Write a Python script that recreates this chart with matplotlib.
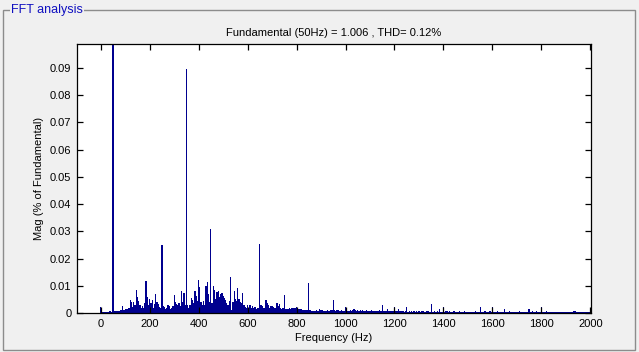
import matplotlib
matplotlib.use("Agg")
import matplotlib.pyplot as plt
from matplotlib.patches import Rectangle
import numpy as np

plt.rcParams['font.family'] = ['Liberation Sans', 'DejaVu Sans']

# Frequency bins (Hz), 5 Hz resolution, 0..2000
freqs = list(range(0, 2001, 5))

# Magnitudes, one row per 100 Hz (20 bins each)
mag_rows = [
    [.0022, .0004, .0004, .0004, .0005, .0005, .0004, .0006, .0007, .0005, 1.0, .0006, .0008, .0007, .0009, .0008, .0010, .0012, .0025, .0011],
    [.0013, .0015, .0014, .0018, .0047, .0040, .0022, .0040, .0030, .0083, .0060, .0045, .0030, .0020, .0025, .0018, .0035, .0118, .0060, .0030],
    [.0050, .0035, .0047, .0020, .0034, .0069, .0040, .0034, .0022, .0018, .0250, .0025, .0022, .0015, .0020, .0028, .0026, .0016, .0018, .0025],
    [.0067, .0040, .0034, .0030, .0038, .0025, .0080, .0040, .0073, .0030, .0895, .0028, .0020, .0030, .0055, .0049, .0035, .0080, .0061, .0045],
    [.0120, .0096, .0040, .0028, .0044, .0030, .0100, .0113, .0070, .0040, .0309, .0035, .0098, .0083, .0050, .0077, .0080, .0060, .0071, .0075],
    [.0061, .0056, .0047, .0035, .0030, .0045, .0132, .0010, .0040, .0081, .0053, .0045, .0090, .0053, .0040, .0035, .0074, .0030, .0022, .0020],
    [.0028, .0020, .0028, .0018, .0025, .0020, .0022, .0015, .0020, .0018, .0254, .0028, .0027, .0018, .0020, .0047, .0037, .0028, .0020, .0025],
    [.0025, .0022, .0020, .0018, .0036, .0025, .0033, .0020, .0015, .0018, .0066, .0016, .0016, .0014, .0018, .0016, .0020, .0020, .0018, .0020],
    [.0022, .0018, .0014, .0016, .0013, .0012, .0012, .0010, .0012, .0010, .0110, .0010, .0008, .0007, .0009, .0006, .0010, .0008, .0007, .0013],
    [.0010, .0012, .0008, .0009, .0007, .0010, .0009, .0008, .0010, .0012, .0047, .0010, .0008, .0010, .0012, .0009, .0008, .0010, .0008, .0009],
    [.0023, .0010, .0008, .0009, .0011, .0008, .0012, .0016, .0010, .0009, .0012, .0008, .0010, .0009, .0011, .0008, .0009, .0010, .0008, .0009],
    [.0008, .0010, .0007, .0009, .0008, .0007, .0009, .0008, .0010, .0008, .0029, .0008, .0007, .0009, .0013, .0007, .0008, .0006, .0009, .0007],
    [.0022, .0007, .0006, .0013, .0007, .0008, .0006, .0007, .0005, .0006, .0022, .0005, .0006, .0005, .0006, .0005, .0007, .0005, .0006, .0005],
    [.0006, .0005, .0007, .0006, .0008, .0005, .0007, .0006, .0009, .0005, .0033, .0005, .0004, .0006, .0005, .0007, .0005, .0016, .0005, .0004],
    [.0022, .0005, .0006, .0007, .0005, .0006, .0004, .0005, .0006, .0009, .0005, .0004, .0005, .0006, .0004, .0005, .0004, .0006, .0005, .0004],
    [.0005, .0004, .0005, .0004, .0005, .0004, .0006, .0004, .0005, .0004, .0022, .0005, .0004, .0005, .0008, .0004, .0005, .0004, .0006, .0004],
    [.0022, .0004, .0005, .0004, .0009, .0004, .0005, .0004, .0005, .0004, .0015, .0004, .0005, .0004, .0009, .0004, .0005, .0004, .0005, .0004],
    [.0005, .0004, .0006, .0004, .0005, .0004, .0005, .0004, .0005, .0004, .0015, .0004, .0005, .0007, .0004, .0005, .0008, .0004, .0005, .0004],
    [.0022, .0004, .0005, .0004, .0007, .0004, .0003, .0004, .0003, .0004, .0003, .0004, .0003, .0004, .0003, .0003, .0004, .0003, .0003, .0003],
    [.0003, .0003, .0004, .0003, .0003, .0003, .0007, .0008, .0006, .0003, .0003, .0003, .0003, .0003, .0003, .0003, .0003, .0003, .0003, .0003],
    [.0003],
]
mags = [v for row in mag_rows for v in row]

xticks = list(range(0, 2001, 200))
yticks = [0, 0.01, 0.02, 0.03, 0.04, 0.05, 0.06, 0.07, 0.08, 0.09]
ytick_labels = ['0', '0.01', '0.02', '0.03', '0.04', '0.05', '0.06', '0.07', '0.08', '0.09']

title = 'Fundamental (50Hz) = 1.006 , THD= 0.12%'
bg = '#F0F0F0'
bar_color = '#00008F'

W, H = 639, 352
fig = plt.figure(figsize=(W / 100, H / 100), dpi=100, facecolor=bg)


def fx(px):
    return px / W


def fy(py):
    return 1 - py / H


frame = Rectangle((fx(2.5), fy(349.5)), fx(635) - fx(2.5), fy(9.5) - fy(349.5),
                  transform=fig.transFigure, fill=False, edgecolor='#8C8C8C', linewidth=1.0)
fig.patches.append(frame)
fig.text(fx(11), fy(9.5), 'FFT analysis', color='#1010C0', fontsize=9, va='center', ha='left',
         bbox=dict(facecolor=bg, edgecolor='none', pad=1.0))

ax = fig.add_axes([fx(77), fy(313), fx(591) - fx(77), fy(44) - fy(313)])
ax.set_facecolor('white')
ax.bar(freqs, mags, width=5.0, color=bar_color, linewidth=0, align='center', antialiased=False)
ax.set_xlim(-97, 2003)
ax.set_ylim(0, 0.0988)
ax.set_xticks(xticks)
ax.set_xticklabels([str(t) for t in xticks])
ax.set_yticks(yticks)
ax.set_yticklabels(ytick_labels)
ax.tick_params(direction='in', length=4.5, width=0.9, top=True, right=True,
               labelsize=8, pad=4, color='black')
for s in ax.spines.values():
    s.set_linewidth(0.9)
ax.set_title(title, fontsize=8, pad=6)
ax.set_xlabel('Frequency (Hz)', fontsize=8, labelpad=3)
ax.set_ylabel('Mag (% of Fundamental)', fontsize=8, labelpad=4)

fig.savefig('out.png', dpi=100, facecolor=bg)
